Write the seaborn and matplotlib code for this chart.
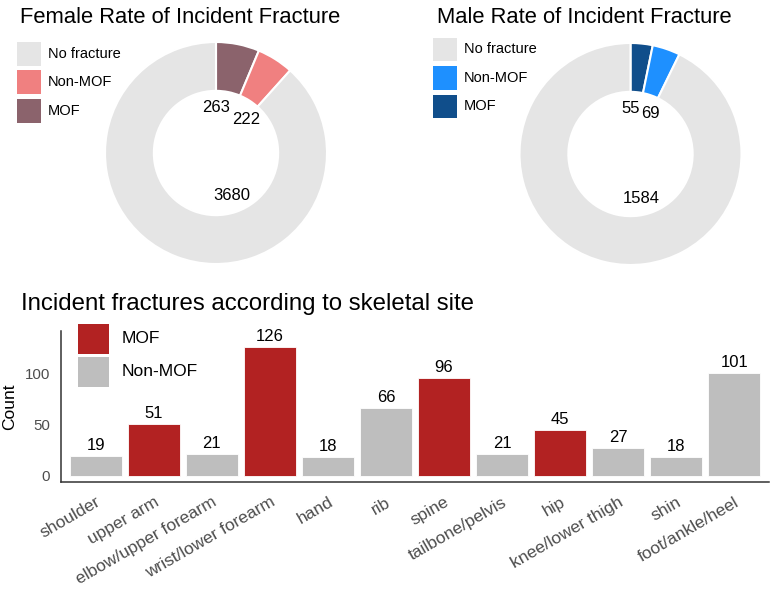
import numpy as np
import matplotlib
matplotlib.use('Agg')
import matplotlib.pyplot as plt
from matplotlib.patches import Rectangle
import pandas as pd
import seaborn as sns

# donut data (order: No fracture, Non-MOF, MOF)
donut_groups = ['No fracture', 'Non-MOF', 'MOF']
female_counts = [3680, 222, 263]
male_counts = [1584, 69, 55]
female_colors = ['#e5e5e5', '#f08080', '#8b636c']
male_colors = ['#e5e5e5', '#1e90ff', '#104e8b']

# bar data
sites = ['shoulder', 'upper arm', 'elbow/upper forearm', 'wrist/lower forearm', 'hand', 'rib',
         'spine', 'tailbone/pelvis', 'hip', 'knee/lower thigh', 'shin', 'foot/ankle/heel']
site_counts = [19, 51, 21, 126, 18, 66, 96, 21, 45, 27, 18, 101]
site_types = ['Non-MOF', 'MOF', 'Non-MOF', 'MOF', 'Non-MOF', 'Non-MOF',
              'MOF', 'Non-MOF', 'MOF', 'Non-MOF', 'Non-MOF', 'Non-MOF']
bar_groups = ['MOF', 'Non-MOF']
yticks = [0, 50, 100]

sns.set_style('white')
plt.rcParams['font.family'] = ['Liberation Sans', 'DejaVu Sans']
plt.rcParams['text.color'] = 'black'

W, H = 772, 590
fig = plt.figure(figsize=(W / 100, H / 100), dpi=100)


def fx(px):
    return px / W


def fy(py):
    return 1 - py / H


def legend_key(x, top, w, h, color, label, text_x, size):
    # ggplot-like legend key drawn in figure pixels
    fig.patches.append(Rectangle((fx(x), fy(top + h)), fx(w), h / H, transform=fig.transFigure,
                                 facecolor=color, edgecolor='none'))
    fig.text(fx(text_x), fy(top + h / 2), label, fontsize=size, ha='left', va='center')


def donut(left, top, size, counts, colors, title, title_x, leg_x, leg_tops):
    ax = fig.add_axes([fx(left), fy(top + size), fx(size), size / H])
    no, non, mof = counts
    total = sum(counts)
    # drawn clockwise from 12 o'clock: MOF, Non-MOF, No fracture
    ax.pie([mof, non, no], colors=[colors[2], colors[1], colors[0]], startangle=90,
           counterclock=False, radius=1,
           wedgeprops=dict(width=0.44, edgecolor='white', linewidth=1.5))
    ax.set_xlim(-1, 1)
    ax.set_ylim(-1, 1)
    ax.axis('off')
    # label positions along the ring, as in the original figure
    fracs = [0, (mof + non) / total, no / 2 / total]
    for f, v in zip(fracs, [mof, non, no]):
        th = 2 * np.pi * f
        ax.text(0.41 * np.sin(th), 0.41 * np.cos(th), str(v), ha='center', va='center',
                fontsize=12)
    fig.text(fx(title_x), fy(23), title, fontsize=15.8, ha='left', va='baseline')
    for t, c, g in zip(leg_tops, colors, donut_groups):
        legend_key(leg_x, t, 24, 23.5, c, g, leg_x + 31, 10.5)


donut(105, 42, 222, female_counts, female_colors, 'Female Rate of Incident Fracture', 20, 17,
      [42, 70.5, 99])
donut(519.5, 43, 222, male_counts, male_colors, 'Male Rate of Incident Fracture', 437, 433,
      [37.5, 66, 94.5])

# bar chart
df = pd.DataFrame({'site': sites, 'count': site_counts, 'type': site_types})
bar_colors = {'MOF': '#b22222', 'Non-MOF': '#bebebe'}
ax = fig.add_axes([fx(61), fy(482), fx(769 - 61), (482 - 330.7) / H])
sns.barplot(data=df, x='site', y='count', hue='type', hue_order=bar_groups,
            palette=bar_colors, saturation=1, dodge=False, width=0.9, edgecolor='white',
            linewidth=0.6, legend=False, ax=ax, order=sites)
for cont in ax.containers:
    ax.bar_label(cont, fmt='%d', padding=2, fontsize=12, color='black')
ax.set_xlim(-0.6, 11.6)
ax.set_ylim(-6.3, 142)
ax.set_yticks(yticks)
ax.set_xlabel('')
ax.set_ylabel('Count', fontsize=12.5, labelpad=5, color='black')
for s in ['top', 'right']:
    ax.spines[s].set_visible(False)
for s in ['left', 'bottom']:
    ax.spines[s].set_color('#333333')
    ax.spines[s].set_linewidth(1.1)
ax.tick_params(axis='both', length=6, width=1.1, color='#333333', labelcolor='#4d4d4d')
ax.tick_params(axis='y', labelsize=10.8, pad=2)
ax.tick_params(axis='x', labelsize=12.5, pad=3)
ax.set_xticks(range(len(sites)))
ax.set_xticklabels(sites, rotation=30, ha='right', rotation_mode='anchor')

for t, g in zip([323.5, 357], bar_groups):
    legend_key(78, t, 31, 30, bar_colors[g], g, 122, 12.5)

fig.text(fx(20.7), fy(310), 'Incident fractures according to skeletal site', fontsize=17.3,
         ha='left', va='baseline')

fig.savefig('out.png', dpi=100)
